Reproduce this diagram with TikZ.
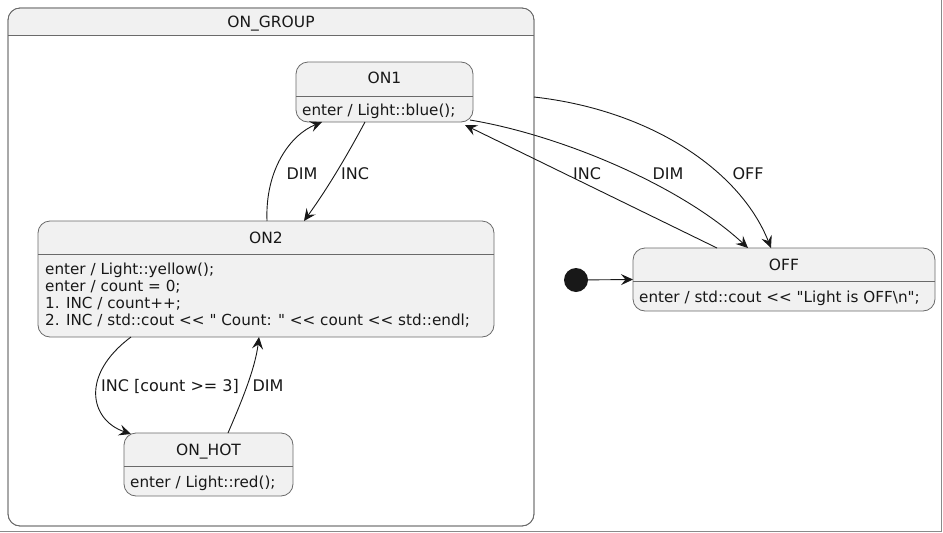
\documentclass[tikz,border=0pt]{standalone}
\usepackage{fontspec}
\setmainfont{DejaVu Sans}[Ligatures=TeXOff]
\usetikzlibrary{arrows.meta}
\definecolor{sfill}{HTML}{F1F1F1}
\definecolor{sline}{HTML}{6A6A6A}
\definecolor{aline}{HTML}{181818}
\definecolor{frameline}{HTML}{8A8A8A}
\begin{document}
\begin{tikzpicture}[x=1pt,y=-1pt,
  statebox/.style={draw=sline, fill=sfill, rounded corners=12pt, line width=0.8pt, inner sep=0pt, outer sep=0pt},
  ttl/.style={font=\fontsize{15.5}{18}\selectfont, inner sep=0pt, anchor=base, text=aline},
  bodytxt/.style={font=\fontsize{15.2}{17}\selectfont, inner sep=0pt, anchor=base west, text=aline},
  lbl/.style={font=\fontsize{16}{19}\selectfont, inner sep=0pt, anchor=base, text=aline},
  arr/.style={draw=aline, line width=0.9pt, -{Stealth[length=12pt,width=11pt,inset=4.5pt]}},
  sep/.style={draw=sline, line width=0.8pt}]
\useasboundingbox (0,0) rectangle (943,533);
% outer frame (right and bottom)
\draw[frameline, line width=1pt] (941,0) -- (941,531) -- (0,531);

% group
\node[statebox, fill=white, minimum width=526pt, minimum height=518pt] (grp) at (271,267) {};
\fill[sfill] (9,35) {[rounded corners=11pt] -- (9,9) -- (533,9)} -- (533,35) -- cycle;
\draw[sline, line width=0.8pt, rounded corners=12pt] (8,8) rectangle (534,526);
\draw[sep] (8,35) -- (534,35);
\node[ttl] (grpt) at (271,27.5) {ON\_GROUP};

% ON1
\node[statebox, minimum width=177pt, minimum height=60pt] (on1) at (384.5,92) {};
\draw[sep] (296,96) -- (473,96);
\node[ttl] (on1t) at (384.5,83.5) {ON1};
\node[bodytxt] (on1b) at (302,115) {enter / Light::blue();};

% ON2
\node[statebox, minimum width=456pt, minimum height=116pt] (on2) at (266,279) {};
\draw[sep] (38,254) -- (494,254);
\node[ttl] (on2t) at (266,243.5) {ON2};
\node[bodytxt] (on2a) at (45,274) {enter / Light::yellow();};
\node[bodytxt] (on2b) at (45,291) {enter / count = 0;};
\node[bodytxt] (on2c) at (45,308) {1. INC / count++;};
\node[bodytxt] (on2d) at (45,325) {2. INC / std::cout << " Count: " << count << std::endl;};

% ON_HOT
\node[statebox, minimum width=169pt, minimum height=63pt] (onhot) at (208.5,464.5) {};
\draw[sep] (124,466) -- (293,466);
\node[ttl] (onhott) at (208.5,455.5) {ON\_HOT};
\node[bodytxt] (onhotb) at (130,487) {enter / Light::red();};

% OFF
\node[statebox, minimum width=302pt, minimum height=63pt] (off) at (784,279.5) {};
\draw[sep] (633,281) -- (935,281);
\node[ttl] (offt) at (784,270.5) {OFF};
\node[bodytxt] (offb) at (639,302) {enter / std::cout << "Light is OFF\textbackslash n";};

% initial
\node[circle, fill=aline, minimum size=24pt, inner sep=0pt] (init) at (576,280) {};

% connectors
\draw[arr] (init) -- (off.west);
\draw[arr] ([xshift=229pt]on2.north west) .. controls (265,170) and (290,135) .. ([xshift=26pt]on1.south west);
\draw[arr] ([xshift=69pt]on1.south west) .. controls (350,150) and (330,185) .. ([xshift=266pt]on2.north west);
\draw[arr] ([xshift=93pt]on2.south west) .. controls (80,375) and (90,420) .. ([xshift=7pt,yshift=-1pt]onhot.north west);
\draw[arr] ([xshift=104pt]onhot.north west) .. controls (240,405) and (255,370) .. ([xshift=221pt]on2.south west);
\draw[arr] ([yshift=-89pt]grp.north east) .. controls (650,110) and (740,170) .. ([xshift=138pt]off.north west);
\draw[arr] ([xshift=-3pt,yshift=2pt]on1.south east) .. controls (560,135) and (680,185) .. ([xshift=115pt]off.north west);
\draw[arr] ([xshift=84pt]off.north west) -- ([xshift=-8pt,yshift=-3pt]on1.south east);

% labels
\node[lbl] (l1) at (302,179) {DIM};
\node[lbl] (l2) at (355,179) {INC};
\node[lbl] (l3) at (170,391) {INC [count >= 3]};
\node[lbl] (l4) at (268,391) {DIM};
\node[lbl] (l5) at (587,179) {INC};
\node[lbl] (l6) at (668,179) {DIM};
\node[lbl] (l7) at (748,179) {OFF};
\end{tikzpicture}
\end{document}
